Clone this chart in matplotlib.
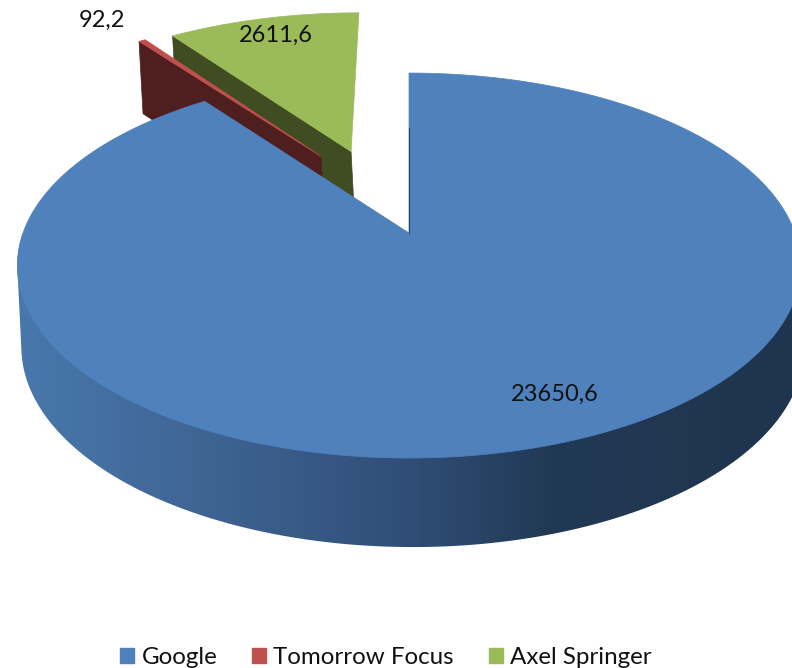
import numpy as np
import matplotlib
matplotlib.use('Agg')
import matplotlib.pyplot as plt
from matplotlib.patches import Patch, Polygon

companies = ['Google', 'Tomorrow Focus', 'Axel Springer']
values = [23650.6, 92.2, 2611.6]

top_colors = ['#4f81bd', '#c0504d', '#9bbb59']
wall_colors = [None, '#4f1f1f', '#404c22']
# how far each slice is pulled out, in disc units (x, y)
explode = [(0, 0), (-0.245, 0.44), (-0.162, 0.47)]
label_pos = [(555, 394), (102, 20), (276, 35)]

# projected disc: centre x/y, radii, perspective
K = 0.169
TOP = (409, 233, 386, 187)
BOTTOM = (413, 313, 386, 194.5)

# side gradient stops of the big slice
grad_x = [30, 200, 400, 550, 790]
grad_rgb = np.array([[72, 119, 171], [63, 101, 148], [48, 79, 120], [34, 57, 85], [31, 52, 78]]) / 255


def project(x, y, disc):
    cx, cy, rx, ry = disc
    w = 1 + K * y
    return np.column_stack([cx + rx * x / w, cy - ry * y / w])


def arc(a0, a1, off, disc, n=2):
    t = np.radians(np.linspace(a0, a1, n))
    return project(off[0] + np.sin(t), off[1] + np.cos(t), disc)


def apex(off, disc):
    return project(np.array([off[0]]), np.array([off[1]]), disc)


def hull(pts):
    # monotone chain, the rim outline has to follow the tangents of both ellipses
    pts = sorted(map(tuple, pts))
    def half(seq):
        out = []
        for p in seq:
            while len(out) > 1 and np.cross(np.subtract(out[-1], out[-2]), np.subtract(p, out[-2])) <= 0:
                out.pop()
            out.append(p)
        return out[:-1]
    return np.array(half(pts) + half(pts[::-1]))


fig = plt.figure(figsize=(7.92, 6.68), dpi=100)
ax = fig.add_axes([0, 0, 1, 1])

plt.rcParams['font.family'] = ['Lato', 'DejaVu Sans']

edges = np.concatenate([[0], np.cumsum(values) / np.sum(values) * 360])

# small slices first, the big one covers them
for i in [2, 1]:
    a0, a1 = edges[i], edges[i + 1]
    off = explode[i]
    wall = np.vstack([apex(off, TOP), arc(a0, a0, off, TOP, 1),
                      arc(a0, a0, off, BOTTOM, 1), apex(off, BOTTOM)])
    ax.add_patch(Polygon(wall, fc=wall_colors[i], ec=wall_colors[i], lw=0.5))
    ax.add_patch(Polygon(np.vstack([apex(off, TOP), arc(a0, a1, off, TOP, 40)]),
                         fc=top_colors[i], ec=top_colors[i], lw=0.5))

# big slice: side is a horizontal colour ramp clipped to the front rim
a0, a1 = edges[0], edges[1]
top_arc = arc(a0, a1, explode[0], TOP, 500)
front = np.vstack([arc(90, 270, explode[0], TOP, 300), arc(90, 270, explode[0], BOTTOM, 300)])
px = np.arange(792) + 0.5
ramp = np.column_stack([np.interp(px, grad_x, grad_rgb[:, c]) for c in range(3)])[np.newaxis, :, :]
rim = Polygon(hull(front), transform=ax.transData, fc='none', ec='none')
ax.add_patch(rim)
img = ax.imshow(ramp, extent=[0, 792, 668, 0], aspect='auto', interpolation='bilinear')
img.set_clip_path(rim)
ax.add_patch(Polygon(np.vstack([apex(explode[0], TOP), top_arc]),
                     fc=top_colors[0], ec=top_colors[0], lw=0.5))

# thin dark seam on the straight edge of the big slice
seam = np.vstack([apex(explode[0], TOP), project(np.array([0.0]), np.array([0.62]), TOP)])
ax.plot(seam[:, 0], seam[:, 1], color='#2a4566', lw=0.8)

for v, (x, y) in zip(values, label_pos):
    ax.text(x, y, str(v).replace('.', ','), ha='center', va='center', fontsize=17, color='#111111')

ax.set_xlim(0, 792)
ax.set_ylim(668, 0)
ax.axis('off')

handles = [Patch(fc=c, ec=c) for c in top_colors]
ax.legend(handles, companies, loc='center', bbox_to_anchor=(386 / 792, 1 - 658 / 668), ncol=3, frameon=False,
          fontsize=17.4, handlelength=0.58, handleheight=0.58, handletextpad=0.29, columnspacing=1.45,
          labelcolor='#111111')

fig.savefig('out.png', dpi=100)
